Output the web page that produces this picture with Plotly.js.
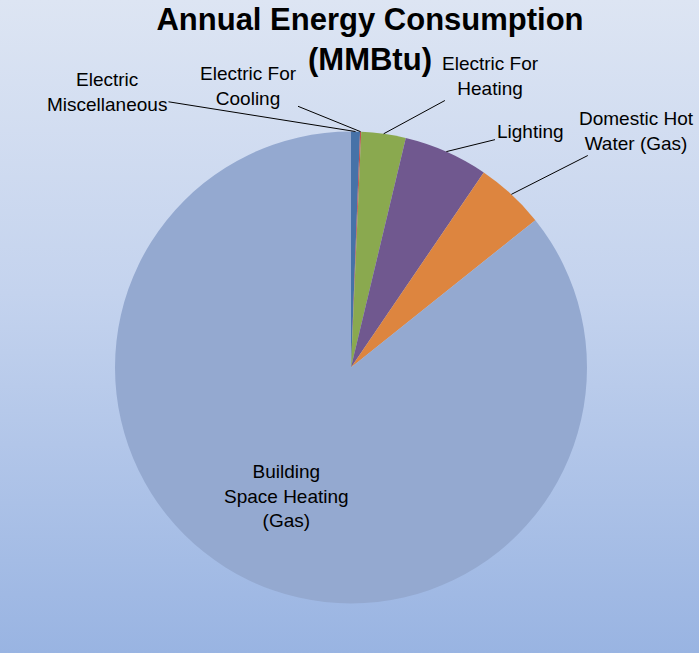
<!DOCTYPE html>
<html>
<head>
<meta charset="utf-8">
<script src="https://cdn.plot.ly/plotly-3.0.1.min.js"></script>
<style>
  html, body { margin: 0; padding: 0; }
  #chart { width: 699px; height: 653px; background: linear-gradient(to bottom, #dde5f3 0%, #c4d3ee 45%, #99b4e2 100%); }
</style>
</head>
<body>
<div id="chart"></div>
<script>
// Data (MMBtu)
const categories = [
  "Electric Miscellaneous",
  "Electric For Cooling",
  "Electric For Heating",
  "Lighting",
  "Domestic Hot Water (Gas)",
  "Building Space Heating (Gas)"
];
const labelTexts = [
  "Electric<br>Miscellaneous",
  "Electric For<br>Cooling",
  "Electric For<br>Heating",
  "Lighting",
  "Domestic Hot<br>Water (Gas)",
  "Building<br>Space Heating<br>(Gas)"
];
const values = [6.1, 0.8, 30.4, 57.8, 47.6, 857.3];
const colors = ["#4672a8", "#c0504d", "#8aa94f", "#70588f", "#dd853f", "#94a9d0"];

// Layout geometry
const W = 699, H = 653;
const M = { l: 115, r: 112, t: 131, b: 49 };
const pw = W - M.l - M.r, ph = H - M.t - M.b;
const cx = M.l + pw / 2, cy = M.t + ph / 2, R = Math.min(pw, ph) / 2;
// label text centres in pixels
const labelPos = [[107, 92], [248, 86], [490, 76], [530, 131], [636, 131], [286, 496]];

const total = values.reduce((a, b) => a + b, 0);
let cum = 0;
const annotations = [];
values.forEach((v, i) => {
  const mid = (cum + v / 2) / total * 2 * Math.PI;
  cum += v;
  const tx = cx + R * Math.sin(mid), ty = cy - R * Math.cos(mid);
  const [lx, ly] = labelPos[i];
  if (i === values.length - 1) {
    annotations.push({
      xref: "paper", yref: "paper",
      x: (lx - M.l) / pw, y: 1 - (ly - M.t) / ph,
      xanchor: "center", yanchor: "middle",
      text: labelTexts[i], showarrow: false,
      font: { family: "Liberation Sans, Arial", size: 19, color: "#000" }
    });
  } else {
    annotations.push({
      xref: "paper", yref: "paper",
      x: (tx - M.l) / pw, y: 1 - (ty - M.t) / ph,
      ax: lx - tx, ay: ly - ty, axref: "pixel", ayref: "pixel",
      text: labelTexts[i], showarrow: true, arrowhead: 0, arrowwidth: 1,
      arrowcolor: "#000", standoff: 0,
      font: { family: "Liberation Sans, Arial", size: 19, color: "#000" }
    });
  }
});

const trace = {
  type: "pie",
  labels: categories,
  values: values,
  sort: false,
  direction: "clockwise",
  rotation: 0,
  marker: { colors: colors, line: { width: 0 } },
  textinfo: "none",
  hoverinfo: "label+value+percent",
  domain: { x: [0, 1], y: [0, 1] }
};

const layout = {
  width: W, height: H,
  margin: M,
  paper_bgcolor: "rgba(0,0,0,0)",
  plot_bgcolor: "rgba(0,0,0,0)",
  showlegend: false,
  title: {
    text: "<b>Annual Energy Consumption<br>(MMBtu)</b>",
    x: 370 / W, xanchor: "center",
    y: 1 - 30 / H, yanchor: "top",
    font: { family: "Liberation Sans, Arial", size: 31, color: "#000" }
  },
  annotations: annotations
};

Plotly.newPlot("chart", [trace], layout, { displayModeBar: false, staticPlot: true });
</script>
</body>
</html>
